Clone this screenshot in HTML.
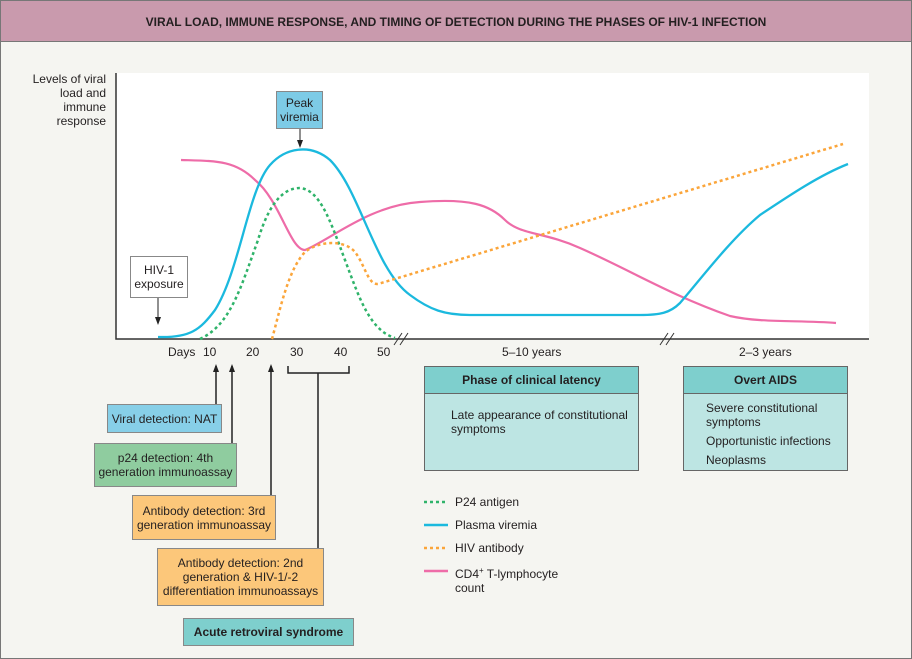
<!DOCTYPE html>
<html><head><meta charset="utf-8"><style>
body{margin:0;width:912px;height:659px;background:#f5f5f1;font-family:"Liberation Sans",sans-serif;color:#231f20;position:relative;overflow:hidden}
.a{position:absolute;box-sizing:border-box}
.hd{left:0;top:0;width:912px;height:42px;background:#c99aad;border:1px solid #777;font-weight:bold;font-size:12px;text-align:center;line-height:42px}
.bx{border:1px solid #888;font-size:12px;text-align:center;line-height:14px;display:flex;align-items:center;justify-content:center}
.t{font-size:12px;position:absolute;white-space:nowrap}
</style></head><body>
<div class="a" style="left:0;top:0;width:912px;height:659px;border:1px solid #777"></div>
<div class="a hd">VIRAL LOAD, IMMUNE RESPONSE, AND TIMING OF DETECTION DURING THE PHASES OF HIV-1 INFECTION</div>
<div class="a" style="left:116px;top:73px;width:753px;height:266px;background:#fff"></div>
<div class="t" style="left:28px;top:72px;text-align:right;line-height:14px;width:78px;white-space:normal">Levels of viral load and immune response</div>
<svg class="a" style="left:0;top:0" width="912" height="659">
<defs><marker id="ar" markerUnits="userSpaceOnUse" markerWidth="8" markerHeight="8" refX="6" refY="4" orient="auto"><path d="M0,1 L8,4 L0,7z" fill="#222"/></marker></defs>
<path d="M116,73 V339 H869" fill="none" stroke="#333" stroke-width="1.5"/>
<path d="M394,345 L402,333 M400,345 L408,333 M660,345 L668,333 M666,345 L674,333" stroke="#333" stroke-width="1"/>
<path d="M181,160 C215,161 235,160 255,180 C280,200 290,250 305,250 C330,240 370,205 420,202 C470,198 490,205 505,220 C520,235 545,232 580,248 C630,270 670,295 730,316 C760,323 800,320 836,323" fill="none" stroke="#ee6ca8" stroke-width="2.2"/>
<path d="M158,337 C190,338 200,330 215,310 C240,270 248,190 270,165 C285,148 310,143 330,160 C360,190 375,270 410,295 C430,310 445,315 470,315 L640,315 C660,315 670,313 680,303 C700,280 730,240 760,215 C790,195 820,175 848,164" fill="none" stroke="#1bb9de" stroke-width="2.3"/>
<path d="M200,339 C230,325 240,290 258,240 C270,200 285,188 300,188 C320,190 330,220 345,260 C360,300 370,330 395,338" fill="none" stroke="#2fb36a" stroke-width="2.5" stroke-dasharray="3,3"/>
<path d="M272,339 C280,310 288,270 305,252 C320,240 345,240 355,252 C365,265 368,285 378,284 L843,144" fill="none" stroke="#fba53a" stroke-width="2.5" stroke-dasharray="3,3"/>
<path d="M300,129 V146" stroke="#222" marker-end="url(#ar)"/>
<path d="M158,298 V323" stroke="#222" marker-end="url(#ar)"/>
<path d="M216,404 V366" stroke="#222" stroke-width="1.5" marker-end="url(#ar)"/>
<path d="M232,443 V366" stroke="#222" stroke-width="1.5" marker-end="url(#ar)"/>
<path d="M271,495 V366" stroke="#222" stroke-width="1.5" marker-end="url(#ar)"/>
<path d="M288,366 V373 H349 V366 M318,373 V548" fill="none" stroke="#222" stroke-width="1.5"/>
<path d="M424,502 H448" stroke="#2fb36a" stroke-width="2.5" stroke-dasharray="3,3"/>
<path d="M424,525 H448" stroke="#1bb9de" stroke-width="2.5"/>
<path d="M424,548 H448" stroke="#fba53a" stroke-width="2.5" stroke-dasharray="3,3"/>
<path d="M424,571 H448" stroke="#ee6ca8" stroke-width="2.5"/>
</svg>
<div class="a bx" style="left:276px;top:91px;width:47px;height:38px;background:#7dcbe6">Peak<br>viremia</div>
<div class="a bx" style="left:130px;top:256px;width:58px;height:42px;background:#fff">HIV-1<br>exposure</div>
<div class="t" style="left:168px;top:345px">Days</div>
<div class="t" style="left:203px;top:345px">10</div>
<div class="t" style="left:246px;top:345px">20</div>
<div class="t" style="left:290px;top:345px">30</div>
<div class="t" style="left:334px;top:345px">40</div>
<div class="t" style="left:377px;top:345px">50</div>
<div class="t" style="left:502px;top:345px">5–10 years</div>
<div class="t" style="left:739px;top:345px">2–3 years</div>
<div class="a bx" style="left:107px;top:404px;width:115px;height:29px;background:#87cfe8">Viral detection: NAT</div>
<div class="a bx" style="left:94px;top:443px;width:143px;height:44px;background:#8fcc9f">p24 detection: 4th<br>generation immunoassay</div>
<div class="a bx" style="left:132px;top:495px;width:144px;height:45px;background:#fcc77a">Antibody detection: 3rd<br>generation immunoassay</div>
<div class="a bx" style="left:157px;top:548px;width:167px;height:58px;background:#fcc77a">Antibody detection: 2nd<br>generation &amp; HIV-1/-2<br>differentiation immunoassays</div>
<div class="a bx" style="left:183px;top:618px;width:171px;height:28px;background:#7ecfcd;font-weight:bold">Acute retroviral syndrome</div>
<div class="a" style="left:424px;top:366px;width:215px;height:105px;border:1px solid #666;background:#bde5e3">
<div style="height:26px;background:#7ecfcd;border-bottom:1px solid #666;font-weight:bold;font-size:12px;text-align:center;line-height:26px">Phase of clinical latency</div>
<div style="font-size:12px;padding:14px 0 0 26px;line-height:14px">Late appearance of constitutional<br>symptoms</div></div>
<div class="a" style="left:683px;top:366px;width:165px;height:105px;border:1px solid #666;background:#bde5e3">
<div style="height:26px;background:#7ecfcd;border-bottom:1px solid #666;font-weight:bold;font-size:12px;text-align:center;line-height:26px">Overt AIDS</div>
<div style="font-size:12px;padding:7px 0 0 22px;line-height:14px">Severe constitutional<br>symptoms<div style="margin-top:5px">Opportunistic infections</div><div style="margin-top:5px">Neoplasms</div></div></div>
<div class="t" style="left:455px;top:495px">P24 antigen</div>
<div class="t" style="left:455px;top:518px">Plasma viremia</div>
<div class="t" style="left:455px;top:541px">HIV antibody</div>
<div class="t" style="left:455px;top:564px;line-height:14px">CD4<sup style="font-size:8px">+</sup> T-lymphocyte<br>count</div>
</body></html>
